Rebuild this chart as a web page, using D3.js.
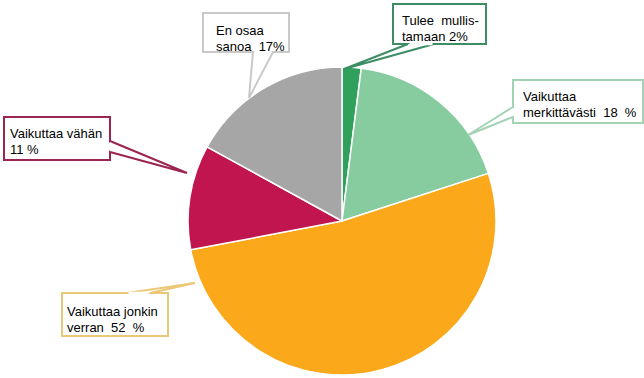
<!DOCTYPE html>
<html>
<head>
<meta charset="utf-8">
<script src="https://cdn.jsdelivr.net/npm/d3@7"></script>
<style>
  html, body { margin: 0; padding: 0; background: #fff; }
  svg { display: block; }
  text { font-family: "Liberation Sans", Arial, sans-serif; font-size: 13px; fill: #000; white-space: pre; }
</style>
</head>
<body>
<svg id="chart" width="644" height="378"></svg>
<script>
// Data
const categories = ["Tulee mullistamaan", "Vaikuttaa merkittävästi", "Vaikuttaa jonkin verran", "Vaikuttaa vähän", "En osaa sanoa"];
const values = [2, 18, 52, 11, 17];
const labelLines = [
  ["Tulee  mullis-", "tamaan 2%"],
  ["Vaikuttaa", "merkittävästi  18  %"],
  ["Vaikuttaa jonkin", "verran  52  %"],
  ["Vaikuttaa vähän", "11 %"],
  ["En osaa", "sanoa  17%"]
];
const sliceColors = ["#2fa15c", "#86cc9f", "#fca81b", "#c1154f", "#a6a6a6"];
const borderColors = ["#3d8c64", "#a3d3b5", "#ebc878", "#9c2452", "#c9c9c9"];

// Layout (callout boxes: x, y, w, h, pointer base points, tip, text origin)
const callouts = [
  { box: [393, 4, 93, 40],  base: [[408, 44], [434, 44]], tip: [344, 69], tx: 402, ty: 25 },
  { box: [513, 80, 130, 43], base: [[513, 107], [513, 117]], tip: [468, 135], tx: 523, ty: 101 },
  { box: [62, 293, 106, 43], base: [[127, 293], [150, 293]], tip: [195, 283], tx: 67, ty: 316 },
  { box: [4, 117, 106, 43], base: [[110, 141], [110, 152]], tip: [187, 173], tx: 10, ty: 138 },
  { box: [203, 13, 86, 39], base: [[253, 52], [273, 52]], tip: [249, 98], tx: 216, ty: 35 }
];

const svg = d3.select("#chart");
const cx = 342, cy = 221, r = 154;

const pie = d3.pie().sort(null).value(d => d)(values);
const arc = d3.arc().innerRadius(0).outerRadius(r);

const g = svg.append("g").attr("transform", `translate(${cx},${cy})`);
g.selectAll("path")
  .data(pie)
  .join("path")
  .attr("d", arc)
  .attr("fill", (d, i) => sliceColors[i])
  .attr("stroke", "#fff")
  .attr("stroke-width", 1.5)
  .attr("stroke-linejoin", "round");

// Callouts
const cg = svg.append("g");
callouts.forEach((c, i) => {
  const [x, y, w, h] = c.box;
  const grp = cg.append("g");
  grp.append("rect")
    .attr("x", x).attr("y", y).attr("width", w).attr("height", h)
    .attr("fill", "#fff")
    .attr("stroke", borderColors[i])
    .attr("stroke-width", 2);
  // pointer
  grp.append("path")
    .attr("d", `M${c.base[0][0]},${c.base[0][1]}L${c.tip[0]},${c.tip[1]}L${c.base[1][0]},${c.base[1][1]}`)
    .attr("fill", "#fff")
    .attr("stroke", borderColors[i])
    .attr("stroke-width", 2)
    .attr("stroke-linejoin", "miter");
  // cover the border segment between base points
  grp.append("line")
    .attr("x1", c.base[0][0] + (c.base[0][0] === c.base[1][0] ? 0 : 1.5))
    .attr("y1", c.base[0][1] + (c.base[0][1] === c.base[1][1] ? 0 : 1.5))
    .attr("x2", c.base[1][0] - (c.base[0][0] === c.base[1][0] ? 0 : 1.5))
    .attr("y2", c.base[1][1] - (c.base[0][1] === c.base[1][1] ? 0 : 1.5))
    .attr("stroke", "#fff")
    .attr("stroke-width", 2.5);
  labelLines[i].forEach((line, j) => {
    grp.append("text")
      .attr("x", c.tx)
      .attr("y", c.ty + j * 15.5)
      .text(line);
  });
});
</script>
</body>
</html>
